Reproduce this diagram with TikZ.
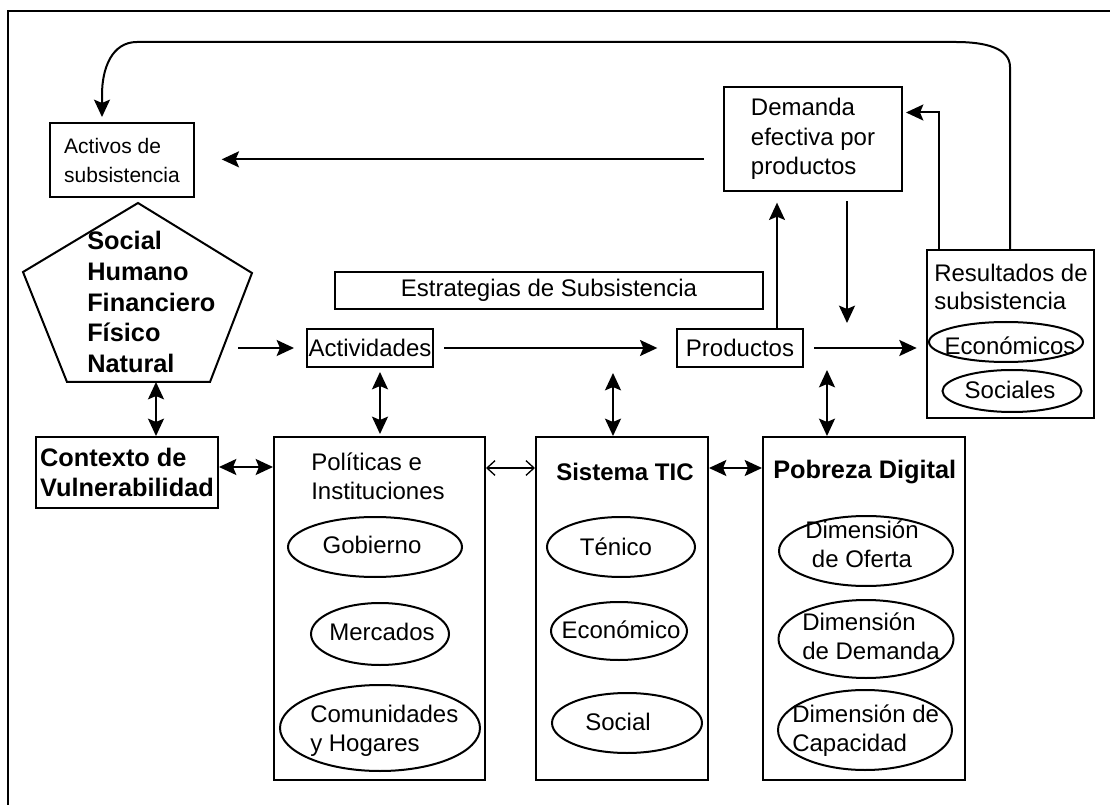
\documentclass[tikz,border=0pt]{standalone}
\usepackage{fontspec}
\setmainfont{Liberation Sans}
\usetikzlibrary{arrows.meta,calc,shapes.geometric}

% font sizes and stacked lines
\newcommand{\regtext}{\fontsize{18}{22}\selectfont}
\newcommand{\boldtext}{\fontsize{19}{23}\selectfont\bfseries}
\newcommand{\linesL}[1]{\begin{tabular}[t]{@{}l@{}}#1\end{tabular}}
\newcommand{\linesC}[1]{\begin{tabular}[t]{@{}c@{}}#1\end{tabular}}

\begin{document}
\begin{tikzpicture}[x=0.75pt,y=-0.75pt,
  box/.style={draw, line width=1.5pt, rectangle, inner sep=0pt, font=\regtext, align=left},
  bbox/.style={box, font=\boldtext},
  oval/.style={draw, ellipse, line width=1.5pt, inner sep=0pt},
  title/.style={inner sep=0pt, font=\regtext, anchor=base west},
  btitle/.style={title, font=\boldtext},
  lbl/.style={inner sep=0pt, font=\regtext, anchor=base},
  arr/.style={line width=1.5pt, -{Stealth[length=13pt,width=12pt,inset=2.5pt]}},
  dbl/.style={line width=1.5pt, {Stealth[length=13pt,width=12pt,inset=2.5pt]}-{Stealth[length=13pt,width=12pt,inset=2.5pt]}},
  barbs/.style={line width=1pt, {Straight Barb[length=6pt,width=11pt]}-{Straight Barb[length=6pt,width=11pt]}}
]
\useasboundingbox (0,0) rectangle (1110,805);

% outer frame (top and left edges)
\draw[line width=1.5pt] (8,805) -- (8,11) -- (1110,11);

% upper row
\node[box, minimum width=108pt, minimum height=55.5pt, font=\fontsize{15.75}{21.75}\selectfont] (act) at (122,160) {Activos de\\subsistencia};
\node[box, minimum width=133.5pt, minimum height=78pt] (dem) at (813,139) {Demanda\\efectiva por\\productos};
\node[box, minimum width=321pt, minimum height=27.75pt] (est) at (549,290.5) {Estrategias de Subsistencia};
\node[box, minimum width=94.5pt, minimum height=28.5pt] (acti) at (370,348) {Actividades};
\node[box, minimum width=94.5pt, minimum height=28.5pt] (prod) at (740,348) {Productos};

% capitals pentagon
\coordinate (p1) at (138,203);
\coordinate (p2) at (252,273);
\coordinate (p3) at (210,382);
\coordinate (p4) at (67,382);
\coordinate (p5) at (23,272);
\draw[line width=1.5pt, line join=miter] (p1) -- (p2) -- (p3) -- (p4) -- (p5) -- cycle;
\node[btitle, font=\fontsize{19}{22.9}\selectfont\bfseries] (pentxt) at (87,250) {\linesL{Social\\Humano\\Financiero\\Físico\\Natural}};

% outcomes
\node[box, minimum width=125.25pt, minimum height=126pt] (res) at (1010.5,334) {};
\node[title, font=\fontsize{18}{21}\selectfont] (rest) at (934,282) {\linesL{Resultados de\\subsistencia}};
\node[oval, minimum width=115.5pt, minimum height=30pt] (econ) at (1006,342) {};
\node[lbl] (econt) at (1010,355) {Económicos};
\node[oval, minimum width=104.25pt, minimum height=31.5pt] (socs) at (1012,391) {};
\node[lbl] (socst) at (1010,398) {Sociales};

% lower row
\node[bbox, minimum width=136.5pt, minimum height=53.25pt] (ctx) at (127,472.5) {Contexto de\\Vulnerabilidad};

\node[box, minimum width=158.25pt, minimum height=257.25pt] (pol) at (379.5,608.5) {};
\node[title] (polt) at (311,470) {\linesL{Políticas e\\Instituciones}};
\node[oval, minimum width=130.5pt, minimum height=45pt] (gob) at (375,547) {};
\node[lbl] (gobt) at (372,553) {Gobierno};
\node[oval, minimum width=103.5pt, minimum height=46.5pt] (mer) at (380,634) {};
\node[lbl] (mert) at (382,640) {Mercados};
\node[oval, minimum width=150pt, minimum height=64.5pt] (com) at (380,728) {};
\node[title] (comt) at (310,722) {\linesL{Comunidades\\y Hogares}};

\node[box, minimum width=129pt, minimum height=257.25pt] (tic) at (622,608.5) {};
\node[btitle, font=\fontsize{18}{22}\selectfont\bfseries] (tict) at (556,480) {Sistema TIC};
\node[oval, minimum width=111pt, minimum height=45pt] (ten) at (621,547) {};
\node[lbl] (tent) at (616,555) {Ténico};
\node[oval, minimum width=102pt, minimum height=43.5pt] (eco) at (619,631) {};
\node[lbl] (ecot) at (621,638) {Económico};
\node[oval, minimum width=112.5pt, minimum height=45pt] (soc) at (627,723) {};
\node[lbl] (soct) at (618,730) {Social};

\node[box, minimum width=151.5pt, minimum height=257.25pt] (pob) at (864,608.5) {};
\node[btitle] (pobt) at (773,478) {Pobreza Digital};
\node[oval, minimum width=130.5pt, minimum height=52.5pt] (ofe) at (866,551) {};
\node[lbl] (ofet) at (862,538) {\linesC{Dimensión\\de Oferta}};
\node[oval, minimum width=131.25pt, minimum height=58.5pt] (dmd) at (866,639) {};
\node[title] (dmdt) at (802,630) {\linesL{Dimensión\\de Demanda}};
\node[oval, minimum width=130.5pt, minimum height=60pt] (cap) at (865,730) {};
\node[title] (capt) at (792,722) {\linesL{Dimensión de\\Capacidad}};

% feedback loop from outcomes back to assets
\coordinate (tr1) at (1010,67);
\coordinate (tr2) at (956,42);
\coordinate (tl1) at (137,42);
\coordinate (tl2) at (102,95);
\draw[arr, shorten >=3.75pt] (res.north -| tr1) -- (tr1) .. controls (1010,48) and (985,42) .. (tr2)
  -- (tl1) .. controls (112,42) and (102,68) .. (tl2) -- (act.north -| tl2);

% demand to assets
\coordinate (dl) at ($(dem.north west)!0.692!(dem.south west)$);
\draw[arr, shorten <=14.25pt, shorten >=20pt] (dl) -- (dl -| act.east);

% outcomes to demand
\coordinate (rx) at (939,0);
\coordinate (dr) at ($(dem.north east)!0.25!(dem.south east)$);
\draw[arr, shorten >=2.25pt] (res.north -| rx) |- (dr);

% products and demand
\coordinate (ux) at (777,0);
\draw[arr, shorten >=8pt] (prod.north -| ux) -- (dem.south -| ux);
\coordinate (dx) at (847,323);
\draw[arr, shorten <=7pt] (dem.south -| dx) -- (dx);

% main flow
\coordinate (pa) at (238,348);
\draw[arr, shorten >=9pt] (pa) -- (acti.west);
\draw[arr, shorten <=7.5pt, shorten >=14pt] (acti.east) -- (prod.west);
\draw[arr, shorten <=7.5pt, shorten >=7pt] (prod.east) -- (prod.east -| res.west);

% vertical links
\coordinate (pb) at (156,382);
\draw[dbl] (pb) -- (pb |- ctx.north);
\coordinate (ax) at (380,0);
\draw[dbl, shorten <=3pt, shorten >=1.5pt] (acti.south -| ax) -- (pol.north -| ax);
\coordinate (sx) at (613,373);
\draw[dbl] (sx) -- (sx |- tic.north);
\coordinate (px) at (827,370);
\draw[dbl] (px) -- (px |- pob.north);

% horizontal links between columns
\coordinate (cy) at (0,467);
\draw[dbl] (ctx.east |- cy) -- (pol.west |- cy);
\coordinate (py) at (0,468);
\draw[barbs] (pol.east |- py) -- (tic.west |- py);
\draw[dbl] (tic.east |- py) -- (pob.west |- py);
\end{tikzpicture}
\end{document}
